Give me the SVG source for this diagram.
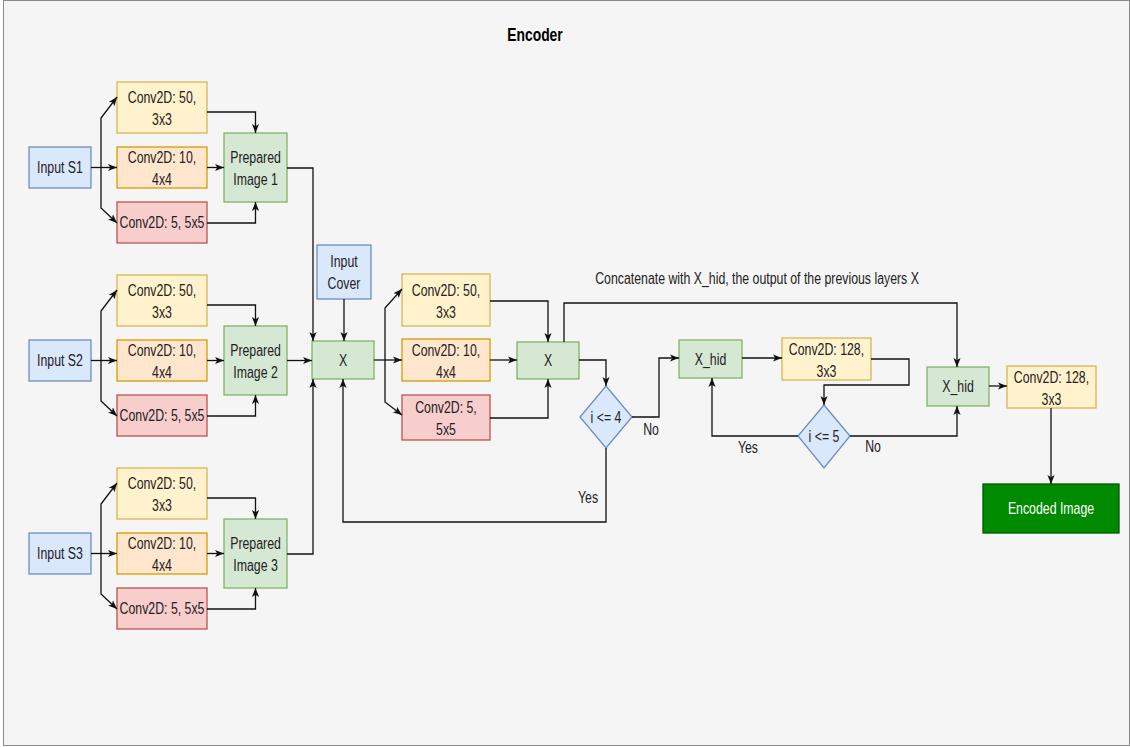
<svg xmlns="http://www.w3.org/2000/svg" width="1130" height="747" viewBox="0 0 1130 747">
  <style>
    .bx{stroke-width:1.3}
    .blue{fill:#dae8fc;stroke:#6c8ebf}
    .yel{fill:#fff2cc;stroke:#d6b656}
    .org{fill:#ffe6cc;stroke:#d79b00}
    .red{fill:#f8cecc;stroke:#b85450}
    .grn{fill:#d5e8d4;stroke:#82b366}
    .dark{fill:#008a00;stroke:#005700}
    .t{font-family:"Liberation Sans",Arial,Helvetica,sans-serif;font-size:16px;fill:#222;text-anchor:middle;transform-box:fill-box;transform-origin:center;transform:scaleX(0.77)}
    .w{fill:#fff}
    .ttl{font-weight:bold;font-size:18px;fill:#000}
    .c{fill:none;stroke:#111;stroke-width:1.3;marker-end:url(#a)}
    .cn{fill:none;stroke:#111;stroke-width:1.3}
  </style>
  <defs>
    <marker id="a" viewBox="0 0 10 10" refX="10" refY="5" markerWidth="9" markerHeight="9" markerUnits="userSpaceOnUse" orient="auto">
      <path d="M0,1 L10,5 L0,9 L2.5,5 Z" fill="#111"/>
    </marker>
  </defs>

  <!-- page -->
  <rect x="3.5" y="0.5" width="1126" height="745" fill="#f5f5f5" stroke="#8a8a8a"/>
  <text class="t ttl" x="535" y="41">Encoder</text>

  <!-- branch 1 -->
  <g id="inputS1"><rect class="bx blue" x="29" y="147" width="62" height="41"/><text class="t" x="60" y="173.5">Input S1</text></g>
  <g id="conv50_1"><rect class="bx yel" x="117" y="82" width="90" height="51"/><text class="t" x="162" y="103.5">Conv2D: 50,</text><text class="t" x="162" y="125.5">3x3</text></g>
  <g id="conv10_1"><rect class="bx org" x="117" y="147" width="90" height="41"/><text class="t" x="162" y="163.5">Conv2D: 10,</text><text class="t" x="162" y="185.5">4x4</text></g>
  <g id="conv5_1"><rect class="bx red" x="117" y="202" width="90" height="41"/><text class="t" x="162" y="228.5">Conv2D: 5, 5x5</text></g>
  <g id="prep1"><rect class="bx grn" x="224" y="133" width="63" height="69"/><text class="t" x="255.5" y="163.5">Prepared</text><text class="t" x="255.5" y="185.5">Image 1</text></g>

  <!-- branch 2 -->
  <g id="inputS2"><rect class="bx blue" x="29" y="340" width="62" height="41"/><text class="t" x="60" y="366.5">Input S2</text></g>
  <g id="conv50_2"><rect class="bx yel" x="117" y="275" width="90" height="51"/><text class="t" x="162" y="296.5">Conv2D: 50,</text><text class="t" x="162" y="318.5">3x3</text></g>
  <g id="conv10_2"><rect class="bx org" x="117" y="340" width="90" height="41"/><text class="t" x="162" y="356.5">Conv2D: 10,</text><text class="t" x="162" y="378.5">4x4</text></g>
  <g id="conv5_2"><rect class="bx red" x="117" y="395" width="90" height="41"/><text class="t" x="162" y="421.5">Conv2D: 5, 5x5</text></g>
  <g id="prep2"><rect class="bx grn" x="224" y="326" width="63" height="69"/><text class="t" x="255.5" y="356.5">Prepared</text><text class="t" x="255.5" y="378.5">Image 2</text></g>

  <!-- branch 3 -->
  <g id="inputS3"><rect class="bx blue" x="29" y="533" width="62" height="41"/><text class="t" x="60" y="559.5">Input S3</text></g>
  <g id="conv50_3"><rect class="bx yel" x="117" y="468" width="90" height="51"/><text class="t" x="162" y="489.5">Conv2D: 50,</text><text class="t" x="162" y="511.5">3x3</text></g>
  <g id="conv10_3"><rect class="bx org" x="117" y="533" width="90" height="41"/><text class="t" x="162" y="549.5">Conv2D: 10,</text><text class="t" x="162" y="571.5">4x4</text></g>
  <g id="conv5_3"><rect class="bx red" x="117" y="588" width="90" height="41"/><text class="t" x="162" y="614.5">Conv2D: 5, 5x5</text></g>
  <g id="prep3"><rect class="bx grn" x="224" y="519" width="63" height="69"/><text class="t" x="255.5" y="549.5">Prepared</text><text class="t" x="255.5" y="571.5">Image 3</text></g>

  <!-- merge stage -->
  <g id="inputCover"><rect class="bx blue" x="317" y="245" width="54" height="54"/><text class="t" x="344" y="267">Input</text><text class="t" x="344" y="289">Cover</text></g>
  <g id="x1"><rect class="bx grn" x="312" y="341" width="62" height="38"/><text class="t" x="343" y="366">X</text></g>
  <g id="conv50_m"><rect class="bx yel" x="402" y="274" width="88" height="52"/><text class="t" x="446" y="296">Conv2D: 50,</text><text class="t" x="446" y="318">3x3</text></g>
  <g id="conv10_m"><rect class="bx org" x="402" y="339" width="88" height="42"/><text class="t" x="446" y="356">Conv2D: 10,</text><text class="t" x="446" y="378">4x4</text></g>
  <g id="conv5_m"><rect class="bx red" x="402" y="395" width="88" height="45"/><text class="t" x="446" y="413.5">Conv2D: 5,</text><text class="t" x="446" y="435.5">5x5</text></g>
  <g id="x2"><rect class="bx grn" x="517" y="342" width="62" height="37"/><text class="t" x="548" y="366.5">X</text></g>
  <g id="cond4"><polygon class="bx blue" points="606,386 632,417 606,448 580,417"/><text class="t" x="606" y="423">i &lt;= 4</text></g>

  <!-- hidden stage -->
  <g id="xhid1"><rect class="bx grn" x="679" y="340" width="63" height="38"/><text class="t" x="710.5" y="365">X_hid</text></g>
  <g id="conv128_1"><rect class="bx yel" x="782" y="338" width="89" height="42"/><text class="t" x="826.5" y="355">Conv2D: 128,</text><text class="t" x="826.5" y="377">3x3</text></g>
  <g id="cond5"><polygon class="bx blue" points="824,405 850,436 824,468 798,436"/><text class="t" x="824" y="442">i &lt;= 5</text></g>
  <g id="xhid2"><rect class="bx grn" x="927" y="367" width="62" height="39"/><text class="t" x="958" y="392.5">X_hid</text></g>
  <g id="conv128_2"><rect class="bx yel" x="1007" y="366" width="89" height="42"/><text class="t" x="1051.5" y="383">Conv2D: 128,</text><text class="t" x="1051.5" y="405">3x3</text></g>
  <g id="encoded"><rect class="bx dark" x="983" y="484" width="136" height="49"/><text class="t w" x="1051" y="514.5">Encoded Image</text></g>

  <!-- connectors -->
  <g id="connectors">
    <!-- branch 1 -->
    <path class="c" d="M91,167.5 H117"/>
    <path class="c" d="M101,167.5 V118 L117,97"/>
    <path class="c" d="M101,167.5 V208 L117,223"/>
    <path class="c" d="M207,112 H255.5 V133"/>
    <path class="c" d="M207,167.5 H224"/>
    <path class="c" d="M207,223 H255.5 V202"/>
    <path class="c" d="M287,168 H313 V341"/>
    <!-- branch 2 -->
    <path class="c" d="M91,360.5 H117"/>
    <path class="c" d="M101,360.5 V311 L117,290"/>
    <path class="c" d="M101,360.5 V401 L117,416"/>
    <path class="c" d="M207,305 H255.5 V326"/>
    <path class="c" d="M207,360.5 H224"/>
    <path class="c" d="M207,416 H255.5 V395"/>
    <path class="c" d="M287,360.5 H312"/>
    <!-- branch 3 -->
    <path class="c" d="M91,553.5 H117"/>
    <path class="c" d="M101,553.5 V504 L117,483"/>
    <path class="c" d="M101,553.5 V594 L117,609"/>
    <path class="c" d="M207,498 H255.5 V519"/>
    <path class="c" d="M207,553.5 H224"/>
    <path class="c" d="M207,609 H255.5 V588"/>
    <path class="c" d="M287,554 H313 V379"/>
    <!-- merge stage -->
    <path class="c" d="M344,299 V341"/>
    <path class="c" d="M374,360 H402"/>
    <path class="c" d="M385,360 V308 L402,289"/>
    <path class="c" d="M385,360 V402 L402,415"/>
    <path class="c" d="M490,301 H548 V342"/>
    <path class="c" d="M490,360 H517"/>
    <path class="c" d="M490,418 H548 V379"/>
    <path class="c" d="M564,342 V303 H957 V367"/>
    <path class="c" d="M579,360 H606 V386"/>
    <path class="c" d="M632,417 H659 V358 H679"/>
    <path class="c" d="M606,448 V522 H343 V379"/>
    <!-- hidden stage -->
    <path class="c" d="M742,358 H782"/>
    <path class="c" d="M871,359 H909 V385 H824 V405"/>
    <path class="c" d="M798,436 H712 V378"/>
    <path class="c" d="M850,436 H957 V406"/>
    <path class="c" d="M989,386 H1007"/>
    <path class="c" d="M1051,408 V484"/>
  </g>

  <!-- labels -->
  <g id="labels">
    <text class="t" x="757" y="284">Concatenate with X_hid, the output of the previous layers X</text>
    <text class="t" x="651" y="435">No</text>
    <text class="t" x="588" y="503">Yes</text>
    <text class="t" x="748" y="453">Yes</text>
    <text class="t" x="873" y="452">No</text>
  </g>
</svg>
